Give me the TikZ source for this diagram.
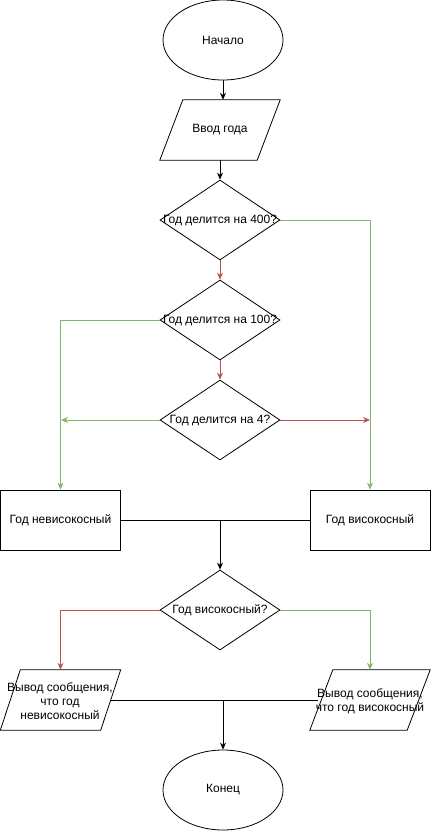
\documentclass[tikz,border=0pt]{standalone}
\usepackage{fontspec}
\setmainfont{Liberation Sans}
\usetikzlibrary{shapes.geometric,arrows.meta,calc}
\definecolor{gr}{HTML}{82B366}
\definecolor{rd}{HTML}{B85450}
\newcommand{\fsz}{\fontsize{12pt}{14pt}\selectfont}
\tikzset{
  base/.style={draw, line width=0.8pt, font=\fsz, inner sep=0pt},
  term/.style={base, ellipse, minimum width=120, minimum height=80},
  iobox/.style={font=\fsz, inner sep=0pt, rectangle, minimum width=120, minimum height=60},
  dec/.style={base, diamond, minimum width=120, minimum height=80},
  proc/.style={base, rectangle, minimum width=120, minimum height=60},
  txt/.style={font=\fsz, align=center, inner sep=0pt},
  shp/.style={line width=0.8pt, line join=miter},
  conn/.style={line width=0.8pt, -{Stealth[length=7pt,width=6pt]}},
  plain/.style={line width=0.8pt},
  yes/.style={conn, draw=gr},
  no/.style={conn, draw=rd}
}
\begin{document}
\begin{tikzpicture}[x=1pt,y=-1pt]
\useasboundingbox (0,0) rectangle (431,831);
\node[term] (start) at (223,40) {};
\node[txt] (tstart) at (start) {Начало};
\node[iobox] (in) at (220,130) {};
\draw[shp] ($(in.north west)+(23,0)$) -- (in.north east) -- ($(in.south east)+(-23,0)$) -- (in.south west) -- cycle;
\node[txt] (tin) at (in) {Ввод года};
\node[dec] (d1) at (220,220) {};
\node[txt] (t1) at (d1) {Год делится на 400?};
\node[dec] (d2) at (220,320) {};
\node[txt] (t2) at (d2) {Год делится на 100?};
\node[dec] (d3) at (220,420) {};
\node[txt] (t3) at (d3) {Год делится на 4?};
\node[proc] (nl) at (60.5,520) {};
\node[txt] (tnl) at (nl) {Год невисокосный};
\node[proc] (yl) at (370,520) {};
\node[txt] (tyl) at (yl) {Год високосный};
\node[dec] (d4) at (220,610) {};
\node[txt] (t4) at (d4) {Год високосный?};
\node[iobox] (ol) at (60.5,700) {};
\draw[shp] ($(ol.north west)+(20,0)$) -- (ol.north east) -- ($(ol.south east)+(-20,0)$) -- (ol.south west) -- cycle;
\node[txt] (tol) at (60,701) {Вывод сообщения,\\что год\\невисокосный};
\node[iobox] (or) at (370,700) {};
\draw[shp] ($(or.north west)+(23,0)$) -- (or.north east) -- ($(or.south east)+(-23,0)$) -- (or.south west) -- cycle;
\node[txt] (tor) at (370,701.5) {Вывод сообщения,\\что год високосный};
\node[term] (end) at (223,790) {};
\node[txt] (tend) at (end) {Конец};

\coordinate (j1) at (220,520);
\coordinate (j2) at (223,700);
\coordinate (a3l) at (61,420);
\coordinate (a3r) at (370,420);
\coordinate (olr) at ($(ol.east)+(-10,0)$);
\coordinate (orl) at ($(or.west)+(8,0)$);

\draw[conn] (start.south) -- (start.south |- in.north);
\draw[conn] (in.south) -- (d1.north);
\draw[yes] (d1.east) -| (yl.north);
\draw[no] (d1.south) -- (d2.north);
\draw[yes] (d2.west) -| (nl.north);
\draw[no] (d2.south) -- (d3.north);
\draw[yes] (d3.west) -- (a3l);
\draw[no] (d3.east) -- (a3r);
\draw[plain] (nl.east) -- (yl.west);
\draw[conn] (j1) -- (d4.north);
\draw[no] (d4.west) -| (ol.north);
\draw[yes] (d4.east) -| (or.north);
\draw[plain] (olr) -- (orl);
\draw[conn] (j2) -- (end.north);
\end{tikzpicture}
\end{document}
